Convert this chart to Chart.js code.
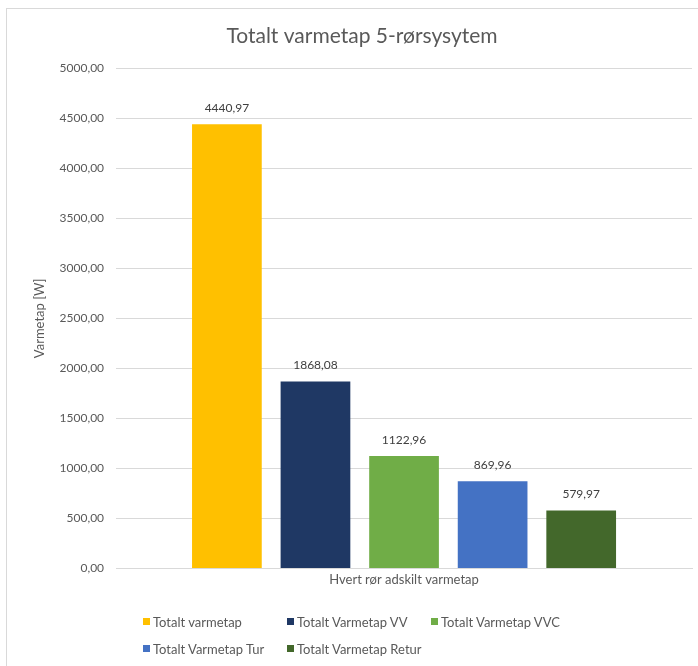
<!DOCTYPE html>
<html>
<head>
<meta charset="utf-8">
<script src="https://cdn.jsdelivr.net/npm/chart.js@4.4.1/dist/chart.umd.min.js"></script>
<style>
  body { margin:0; background:#fff; }
  #wrap { position:relative; width:698px; height:666px; overflow:hidden; }
  #frame { position:absolute; left:6px; top:8px; width:800px; height:800px;
           border-top:1px solid #d9d9d9; border-left:1px solid #d9d9d9; pointer-events:none; }
  #legend { position:absolute; left:143px; top:612px; width:480px;
            display:flex; flex-wrap:wrap; column-gap:22px; row-gap:8px;
            font-family:Lato, sans-serif; font-size:13px; color:#595959; }
  #legend .item { display:flex; align-items:center; min-width:122px; height:19px; }
  #legend .box { width:7px; height:7px; margin-right:3px; }
</style>
</head>
<body>
<div id="wrap">
  <canvas id="myChart" width="698" height="666"></canvas>
  <div id="frame"></div>
  <div id="legend"></div>
</div>
<script>
const categories = ['Hvert rør adskilt varmetap'];
const seriesNames = ['Totalt varmetap', 'Totalt Varmetap VV', 'Totalt Varmetap VVC', 'Totalt Varmetap Tur', 'Totalt Varmetap Retur'];
const seriesValues = [4440.97, 1868.08, 1122.96, 869.96, 579.97];
const seriesColors = ['#ffc000', '#1f3864', '#70ad47', '#4472c4', '#43682b'];

const fmt = v => Number(v).toFixed(2).replace('.', ',');

const valueLabels = {
    id:'valueLabels',
    afterDatasetsDraw(chart){
        const ctx = chart.ctx;
        ctx.save();
        ctx.font = '12px Lato';
        ctx.fillStyle = '#404040';
        ctx.textAlign = 'center';
        ctx.textBaseline = 'bottom';
        chart.data.datasets.forEach((ds, i) => {
            chart.getDatasetMeta(i).data.forEach((bar, j) => {
                ctx.fillText(fmt(ds.data[j]), bar.x, bar.y - 10);
            });
        });
        ctx.restore();
    }
};

const conf = {
    type:'bar',
    data:{
        labels:categories,
        datasets:seriesNames.map((name, i) => ({
            label:name,
            data:[seriesValues[i]],
            backgroundColor:seriesColors[i],
            categoryPercentage:0.769,
            barPercentage:0.787
        }))
    },
    options:{
        responsive:false,
        animation:false,
        layout:{ padding:{ top:24, right:6, bottom:74, left:32 } },
        plugins:{
            legend:{ display:false },
            tooltip:{ enabled:false },
            title:{
                display:true,
                text:'Totalt varmetap 5-rørsysytem',
                color:'#595959',
                font:{ family:'Lato', size:21, weight:'normal' },
                padding:{ top:0, bottom:19 }
            }
        },
        scales:{
            x:{
                grid:{ display:false, drawTicks:false },
                border:{ color:'#d9d9d9' },
                ticks:{ color:'#595959', font:{ family:'Lato', size:13 }, padding:4 }
            },
            y:{
                min:0,
                max:5000,
                ticks:{ stepSize:500, color:'#595959', font:{ family:'Lato', size:12 }, padding:12, callback:v => fmt(v) },
                grid:{ color:'#d9d9d9', drawTicks:false },
                border:{ display:false },
                title:{ display:true, text:'Varmetap [W]', color:'#595959', font:{ family:'Lato', size:13 }, padding:{ top:0, bottom:0 } }
            }
        }
    },
    plugins:[valueLabels]
};

const chart = new Chart(document.getElementById('myChart').getContext('2d'), conf);

// legend in two rows like the original
const legendEl = document.getElementById('legend');
chart.data.datasets.forEach(ds => {
    const item = document.createElement('div');
    item.className = 'item';
    const box = document.createElement('span');
    box.className = 'box';
    box.style.background = ds.backgroundColor;
    const txt = document.createElement('span');
    txt.textContent = ds.label;
    item.appendChild(box);
    item.appendChild(txt);
    legendEl.appendChild(item);
});
</script>
</body>
</html>
